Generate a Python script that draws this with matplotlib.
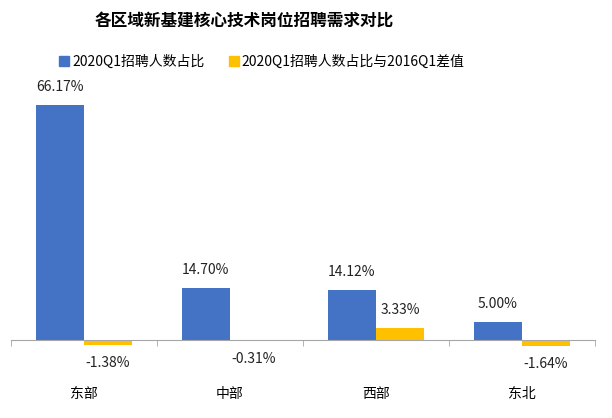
import numpy as np
import matplotlib.pyplot as plt
from matplotlib.patches import Patch

plt.rcParams['font.family'] = ['Noto Sans CJK SC', 'DejaVu Sans']

# data
regions = ['东部', '中部', '西部', '东北']
share_2020 = [66.17, 14.70, 14.12, 5.00]          # 2020Q1招聘人数占比
diff_2016 = [-1.38, -0.31, 3.33, -1.64]           # 与2016Q1差值
series_names = ['2020Q1招聘人数占比', '2020Q1招聘人数占比与2016Q1差值']

blue = '#4472C4'
yellow = '#FFC000'

fig = plt.figure(figsize=(6.12, 4.18), dpi=100)
ax = fig.add_axes([0.018, 0.1187, 0.954, 0.6625])

x = np.arange(len(regions))
w = 0.33
b1 = ax.bar(x - w / 2, share_2020, w, color=blue)
b2 = ax.bar(x + w / 2, diff_2016, w, color=yellow)

# value labels, above for positive and below for negative
for bars, vals in ((b1, share_2020), (b2, diff_2016)):
    for rect, v in zip(bars, vals):
        cx = rect.get_x() + rect.get_width() / 2
        off = 13 if v >= 0 else -13
        ax.annotate('%.2f%%' % v, (cx, v), xytext=(0, off), textcoords='offset points',
                    ha='center', va='center', fontsize=10, color='#222222')

ax.set_xlim(-0.5, 3.5)
ax.set_ylim(-8, 70)
ax.set_yticks([])
for s in ['top', 'left', 'right']:
    ax.spines[s].set_visible(False)
ax.spines['bottom'].set_position(('data', 0))
ax.spines['bottom'].set_color('#A6A6A6')

ax.set_xticks(x)
ax.set_xticklabels(regions, fontsize=10)
ax.tick_params(axis='x', which='major', length=0, pad=34)
ax.set_xticks(np.arange(-0.5, 4, 1), minor=True)
ax.tick_params(axis='x', which='minor', length=4, color='#A6A6A6', direction='out')

fig.text(0.399, 1 - 22 / 418, '各区域新基建核心技术岗位招聘需求对比', ha='center', va='center',
         fontsize=12, fontweight='bold')

handles = [Patch(color=blue), Patch(color=yellow)]
fig.legend(handles, series_names, loc='center', bbox_to_anchor=(262 / 612, 1 - 62 / 418),
           ncol=2, frameon=False, fontsize=10, handlelength=0.7, handleheight=0.7,
           handletextpad=0.2, columnspacing=1.8, borderaxespad=0)

fig.savefig('out.png', dpi=100)
